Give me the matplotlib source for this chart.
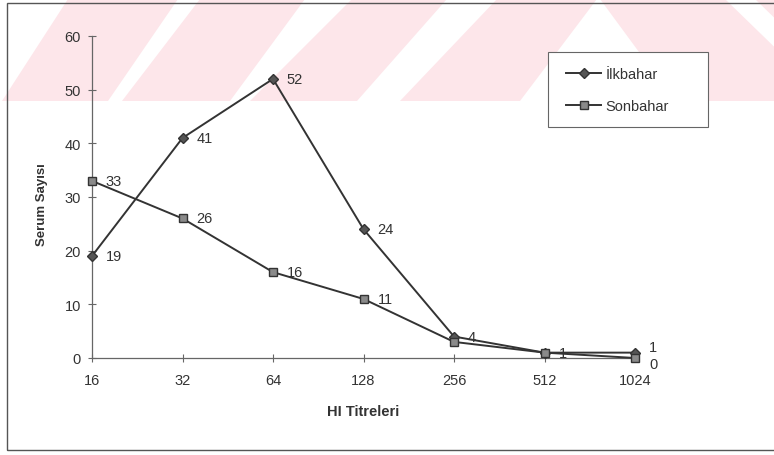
import matplotlib
matplotlib.use('Agg')
import matplotlib.pyplot as plt
from matplotlib.patches import Polygon, Rectangle

plt.rcParams['font.family'] = ['Liberation Sans', 'DejaVu Sans']

# HI titre classes and serum counts per season
titreler = ['16', '32', '64', '128', '256', '512', '1024']
ilkbahar = [19, 41, 52, 24, 4, 1, 1]
sonbahar = [33, 26, 16, 11, 3, 1, 0]
# value labels (blank where it would sit on top of the other series' label)
ilkbahar_etiket = ['19', '41', '52', '24', '4', '1', '1']
sonbahar_etiket = ['33', '26', '16', '11', '', '', '0']

W, H = 774, 456
fig = plt.figure(figsize=(W / 100, H / 100), dpi=100)


def px(x, y):
    # pixel position (origin top-left) -> figure fraction
    return x / W, 1 - y / H


# pale red watermark band across the top of the page
pembe = '#fde6ea'
serit = [
    [(2, 102), (108, 102), (178, 0), (68, 0)],
    [(122, 102), (230, 102), (305, 0), (200, 0)],
    [(250, 102), (357, 102), (447, 0), (352, 0)],
    [(400, 102), (520, 102), (597, 0), (497, 0)],
    [(600, 0), (725, 0), (830, 102), (675, 102)],
    [(755, 0), (800, 0), (800, 102), (860, 102)],
]
for poly in serit:
    fig.add_artist(Polygon([px(*p) for p in poly], closed=True,
                           transform=fig.transFigure, facecolor=pembe,
                           edgecolor='none', zorder=-3))

# chart frame
x0, y0 = px(7, 451)
x1, y1 = px(800, 4)
fig.add_artist(Rectangle((x0, y0), x1 - x0, y1 - y0, transform=fig.transFigure,
                         fill=False, edgecolor='#555555', linewidth=1.0, zorder=-2))

# legend box (white, hides the band behind it)
lx0, ly0 = px(548, 128)
lx1, ly1 = px(708, 53)
fig.add_artist(Rectangle((lx0, ly0), lx1 - lx0, ly1 - ly0, transform=fig.transFigure,
                         facecolor='white', edgecolor='#666666', linewidth=0.8,
                         zorder=-1))

left, bottom = px(92, 359)
right, top = px(635, 37)
ax = fig.add_axes([left, bottom, right - left, top - bottom])
ax.patch.set_alpha(0)

koyu = '#333333'
xs = list(range(len(titreler)))
ax.plot(xs, ilkbahar, color=koyu, lw=1.4, marker='D', ms=5.5,
        mfc='#555555', mec=koyu, label='İlkbahar', zorder=3, clip_on=False)
ax.plot(xs, sonbahar, color=koyu, lw=1.4, marker='s', ms=6,
        mfc='#8a8a8a', mec=koyu, label='Sonbahar', zorder=3, clip_on=False)

# data labels to the right of each point
for i in xs:
    dy1, dy2 = (4, -4) if i == len(xs) - 1 else (0, 0)
    if ilkbahar_etiket[i]:
        ax.annotate(ilkbahar_etiket[i], (i, ilkbahar[i]), xytext=(10, dy1),
                    textcoords='offset points', va='center', ha='left',
                    fontsize=10.5, color='#333333')
    if sonbahar_etiket[i]:
        ax.annotate(sonbahar_etiket[i], (i, sonbahar[i]), xytext=(10, dy2),
                    textcoords='offset points', va='center', ha='left',
                    fontsize=10.5, color='#333333')

ax.set_xlim(0, 6)
ax.set_ylim(0, 60)
ax.set_xticks(xs)
ax.set_xticklabels(titreler)
ax.set_yticks(range(0, 61, 10))
for s in ['top', 'right']:
    ax.spines[s].set_visible(False)
for s in ['left', 'bottom']:
    ax.spines[s].set_color('#666666')
    ax.spines[s].set_linewidth(0.9)
ax.tick_params(axis='both', direction='inout', length=6, width=0.8,
               colors='#666666', labelcolor='#333333', labelsize=10.5)
ax.tick_params(axis='x', pad=8)
ax.tick_params(axis='y', pad=5)

fig.text(*px(42, 205), 'Serum Sayısı', rotation=90, ha='center', va='center',
         fontsize=9.5, fontweight='bold', color='#333333')
fig.text(*px(363, 412), 'HI Titreleri', ha='center', va='center',
         fontsize=10.5, fontweight='bold', color='#333333')

leg = ax.legend(loc='center left', bbox_to_anchor=px(566, 91),
                bbox_transform=fig.transFigure, frameon=False,
                fontsize=10.5, labelspacing=1.25, handlelength=2.4,
                handletextpad=0.3, borderpad=0, borderaxespad=0)
for t in leg.get_texts():
    t.set_color('#333333')

fig.savefig('out.png', dpi=100)
